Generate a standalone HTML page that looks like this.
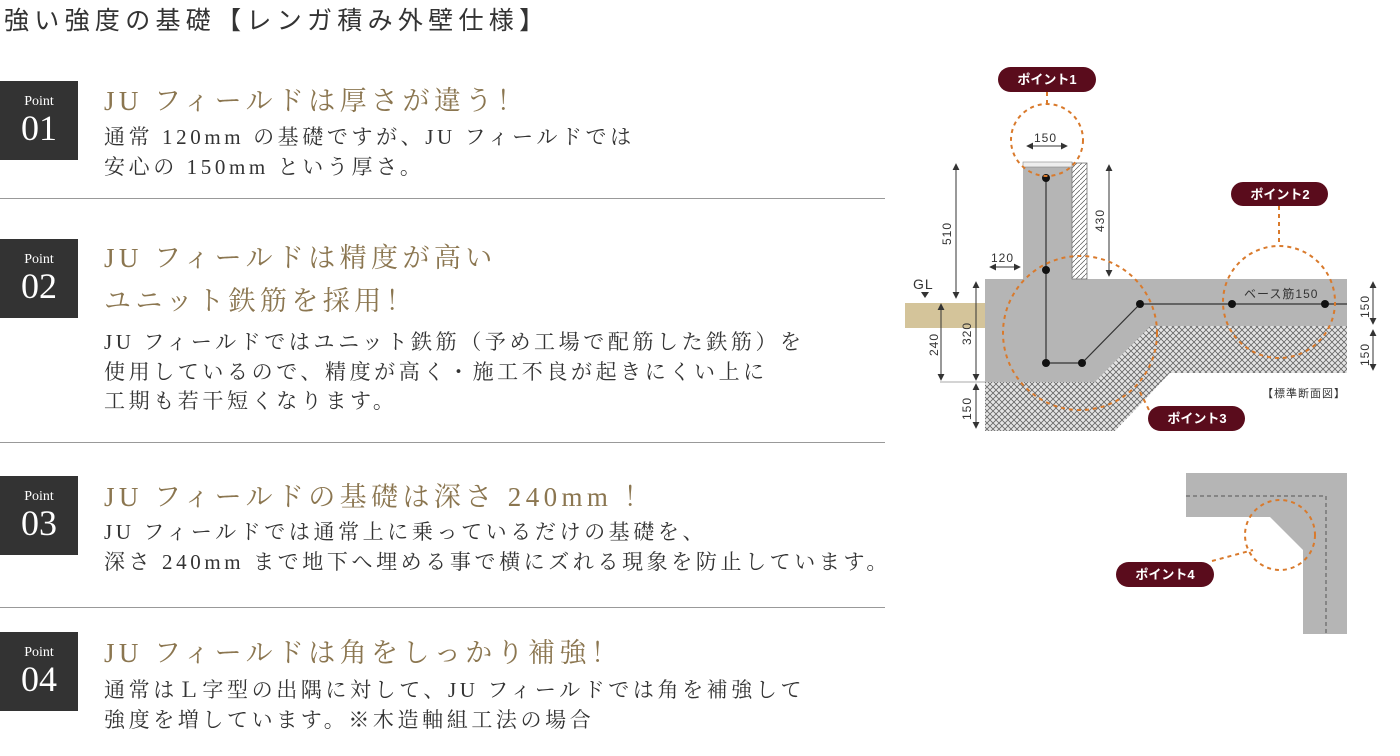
<!DOCTYPE html>
<html><head><meta charset="utf-8"><style>
body{margin:0;width:1400px;height:756px;background:#fff;position:relative;overflow:hidden;font-family:"Liberation Serif","Noto Serif CJK SC",serif;color:#333}
.a{position:absolute;white-space:nowrap}
.t{font-size:25px;left:4px;top:1px;font-family:"Liberation Sans","Noto Sans CJK JP",sans-serif;letter-spacing:5.3px;color:#333}
.box{position:absolute;left:0;width:78px;height:79px;background:#333;color:#fff;text-align:center}
.box .p{font-size:14px;margin-top:13px;line-height:16px}
.box .n{font-size:36px;line-height:36px}
.h{font-size:27px;color:#8b7650;letter-spacing:4.4px;left:104px}
.b{font-size:21px;color:#333;letter-spacing:3.6px;left:104px;line-height:29.5px}
.ln{position:absolute;left:0;width:885px;height:1px;background:#999}
</style></head><body>
<div class="a t">強い強度の基礎【レンガ積み外壁仕様】</div>

<div class="box" style="top:81px"><div class="p">Point</div><div class="n">01</div></div>
<div class="a h" style="top:79px">JU フィールドは厚さが違う！</div>
<div class="a b" style="top:123px">通常 120mm の基礎ですが、JU フィールドでは<br>安心の 150mm という厚さ。</div>
<div class="ln" style="top:198px"></div>

<div class="box" style="top:239px"><div class="p">Point</div><div class="n">02</div></div>
<div class="a h" style="top:236px">JU フィールドは精度が高い</div>
<div class="a h" style="top:279px">ユニット鉄筋を採用！</div>
<div class="a b" style="top:328px">JU フィールドではユニット鉄筋（予め工場で配筋した鉄筋）を<br>使用しているので、精度が高く・施工不良が起きにくい上に<br>工期も若干短くなります。</div>
<div class="ln" style="top:442px"></div>

<div class="box" style="top:476px"><div class="p">Point</div><div class="n">03</div></div>
<div class="a h" style="top:475px">JU フィールドの基礎は深さ 240mm ！</div>
<div class="a b" style="top:518px">JU フィールドでは通常上に乗っているだけの基礎を、<br>深さ 240mm まで地下へ埋める事で横にズれる現象を防止しています。</div>
<div class="ln" style="top:607px"></div>

<div class="box" style="top:632px"><div class="p">Point</div><div class="n">04</div></div>
<div class="a h" style="top:631px">JU フィールドは角をしっかり補強！</div>
<div class="a b" style="top:676px">通常はＬ字型の出隅に対して、JU フィールドでは角を補強して<br>強度を増しています。※木造軸組工法の場合</div>

<svg class="a" style="left:0;top:0" width="1400" height="756" font-family="Liberation Sans,Noto Sans CJK JP,sans-serif">
<defs>
<pattern id="x" width="6" height="6" patternUnits="userSpaceOnUse"><rect width="6" height="6" fill="#e4e4e4"/><path d="M0 0L6 6M6 0L0 6" stroke="#666" stroke-width="0.8"/></pattern>
<pattern id="hh" width="5" height="5" patternUnits="userSpaceOnUse"><rect width="5" height="5" fill="#fff"/><path d="M0 5L5 0" stroke="#555" stroke-width="0.7"/></pattern>
<marker id="ar" viewBox="0 0 8 8" refX="7" refY="4" markerWidth="7" markerHeight="7" orient="auto-start-reverse"><path d="M0 0L8 4L0 8Z" fill="#333"/></marker>
</defs>
<rect x="905" y="303" width="80" height="25" fill="#d4c49a"/>
<path d="M985 382H1095L1150 326H1347V373H1170L1115 431H985Z" fill="url(#x)"/>
<path d="M985 279H1347V326H1150L1095 382H985Z M1023 166H1072V279H1023Z" fill="#b5b5b5"/>
<rect x="1072" y="163" width="15" height="116" fill="url(#hh)" stroke="#777" stroke-width="0.8"/>
<rect x="1023" y="162" width="49" height="5" fill="#eee" stroke="#888" stroke-width="0.6"/>
<g stroke="#333" stroke-width="1.2" fill="none">
<path d="M1046 178V363H1082L1140 304H1347"/>
</g>
<g fill="#111"><circle cx="1046" cy="178" r="4"/><circle cx="1046" cy="270" r="4"/><circle cx="1046" cy="363" r="4"/><circle cx="1082" cy="363" r="4"/><circle cx="1140" cy="304" r="4"/><circle cx="1232" cy="304" r="4"/><circle cx="1325" cy="304" r="4"/></g>
<g stroke="#333" stroke-width="1" fill="none" marker-start="url(#ar)" marker-end="url(#ar)">
<line x1="956" y1="164" x2="956" y2="298"/><line x1="941" y1="304" x2="941" y2="380"/><line x1="976" y1="282" x2="976" y2="380"/><line x1="976" y1="384" x2="976" y2="428"/><line x1="1109" y1="165" x2="1109" y2="276"/><line x1="990" y1="267" x2="1020" y2="267"/><line x1="1027" y1="146" x2="1067" y2="146"/><line x1="1373" y1="282" x2="1373" y2="324"/><line x1="1373" y1="330" x2="1373" y2="370"/>
</g>
<line x1="940" y1="382" x2="985" y2="382" stroke="#aaa"/>
<g fill="#333" font-size="12" letter-spacing="1">
<text transform="translate(951,245) rotate(-90)">510</text>
<text transform="translate(1104,232) rotate(-90)">430</text>
<text transform="translate(938,356) rotate(-90)">240</text>
<text transform="translate(971,345) rotate(-90)">320</text>
<text transform="translate(971,420) rotate(-90)">150</text>
<text transform="translate(1369,318) rotate(-90)">150</text>
<text transform="translate(1369,366) rotate(-90)">150</text>
<text x="991" y="262">120</text><text x="1034" y="142">150</text>
<text x="913" y="289" font-size="14">GL</text>
<text x="1244" y="298">ベース筋150</text>
<text x="1262" y="397" font-size="11">【標準断面図】</text>
</g>
<path d="M921 292h8l-4 6z" fill="#333"/>
<path d="M1186 473H1347V634H1303V550L1270 517H1186Z" fill="#b5b5b5"/>
<path d="M1186 496H1326V634" stroke="#555" stroke-dasharray="4 3" fill="none"/>
<g stroke="#d97a2c" stroke-width="2" stroke-dasharray="4 4" fill="none">
<circle cx="1047" cy="140" r="36"/><line x1="1047" y1="92" x2="1047" y2="104"/>
<circle cx="1080" cy="333" r="77"/><line x1="1140" y1="392" x2="1150" y2="412"/>
<circle cx="1279" cy="302" r="56"/><line x1="1279" y1="206" x2="1279" y2="246"/>
<circle cx="1280" cy="535" r="35"/><line x1="1212" y1="561" x2="1253" y2="550"/>
</g>
<g fill="#5a0c1c"><rect x="998" y="67" width="98" height="25" rx="12.5"/><rect x="1231" y="182" width="97" height="24" rx="12"/><rect x="1148" y="406" width="97" height="25" rx="12.5"/><rect x="1116" y="562" width="98" height="25" rx="12.5"/></g>
<g fill="#fff" font-size="13" font-weight="bold" text-anchor="middle"><text x="1047" y="84">ポイント1</text><text x="1280" y="199">ポイント2</text><text x="1197" y="423">ポイント3</text><text x="1165" y="579">ポイント4</text></g>
</svg>
</body></html>
